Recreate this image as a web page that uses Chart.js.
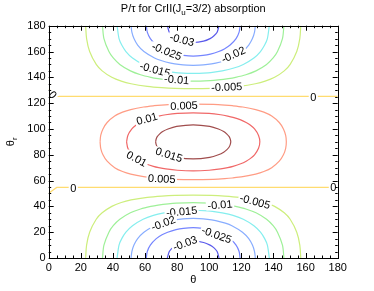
<!DOCTYPE html>
<html>
<head>
<meta charset="utf-8">
<script src="https://cdn.jsdelivr.net/npm/chart.js@4/dist/chart.umd.min.js"></script>
<style>
html,body{margin:0;padding:0;background:#fff;}
canvas{display:block;}
</style>
</head>
<body>
<canvas id="c" width="374" height="291"></canvas>
<script>
// ---- axes ----
const thetaTicks = [0, 20, 40, 60, 80, 100, 120, 140, 160, 180];
const thetaRTicks = [0, 20, 40, 60, 80, 100, 120, 140, 160, 180];

// ---- contour levels ----
const levels = [-0.03, -0.025, -0.02, -0.015, -0.01, -0.005, 0, 0.005, 0.01, 0.015];

// ---- contour paths, [theta, theta_r] ----
const cNeg030Bot = [[73.9,0],[75.1,5],[77.2,8],[79.5,10],[83.5,12],[90,13],[96.5,12],[100.5,10],[102.8,8],[104.9,5],[106.1,0]];
const cNeg030Top = [[73.9,180],[75.1,175],[77.2,172],[79.5,170],[83.5,168],[90,167],[96.5,168],[100.5,170],[102.8,172],[104.9,175],[106.1,180]];
const cNeg025Bot = [[60.8,0],[61.4,5],[63.3,10],[67.0,15],[70.6,18],[74.1,20],[79.3,22],[83.9,23],[90,23.5],[96.1,23],[100.7,22],[105.9,20],[109.4,18],[113.0,15],[116.7,10],[118.6,5],[119.2,0]];
const cNeg025Top = [[60.8,180],[61.4,175],[63.3,170],[67.0,165],[70.6,162],[74.1,160],[79.3,158],[83.9,157],[90,156.5],[96.1,157],[100.7,158],[105.9,160],[109.4,162],[113.0,165],[116.7,170],[118.6,175],[119.2,180]];
const cNeg020Bot = [[51.3,0],[51.8,5],[53.1,10],[55.4,15],[59.3,20],[65.9,25],[70.0,27],[76.0,29],[81.0,30],[90,30.7],[99.0,30],[104.0,29],[110.0,27],[114.1,25],[120.7,20],[124.6,15],[126.9,10],[128.2,5],[128.7,0]];
const cNeg020Top = [[51.3,180],[51.8,175],[53.1,170],[55.4,165],[59.3,160],[65.9,155],[70.0,153],[76.0,151],[81.0,150],[90,149.3],[99.0,150],[104.0,151],[110.0,153],[114.1,155],[120.7,160],[124.6,165],[126.9,170],[128.2,175],[128.7,180]];
const cNeg015Bot = [[42.6,0],[43.8,10],[45.5,15],[48.1,20],[52.2,25],[58.8,30],[65.2,33],[71.9,35],[77.0,36],[80.7,36.5],[90,37.0],[99.3,36.5],[103.0,36],[108.1,35],[114.8,33],[121.2,30],[127.8,25],[131.9,20],[134.5,15],[136.2,10],[137.4,0]];
const cNeg015Top = [[42.6,180],[43.8,170],[45.5,165],[48.1,160],[52.2,155],[58.8,150],[65.2,147],[71.9,145],[77.0,144],[80.7,143.5],[90,143.0],[99.3,143.5],[103.0,144],[108.1,145],[114.8,147],[121.2,150],[127.8,155],[131.9,160],[134.5,165],[136.2,170],[137.4,180]];
const cNeg010Bot = [[33.5,0],[34.4,10],[37.5,20],[40.2,25],[44.3,30],[50.9,35],[57.2,38],[63.6,40],[68.1,41],[74.5,42],[79.5,42.5],[90,42.9],[100.5,42.5],[105.5,42],[111.9,41],[116.4,40],[122.8,38],[129.1,35],[135.7,30],[139.8,25],[142.5,20],[145.6,10],[146.5,0]];
const cNeg010Top = [[33.5,180],[34.4,170],[37.5,160],[40.2,155],[44.3,150],[50.9,145],[57.2,142],[63.6,140],[68.1,139],[74.5,138],[79.5,137.5],[90,137.1],[100.5,137.5],[105.5,138],[111.9,139],[116.4,140],[122.8,142],[129.1,145],[135.7,150],[139.8,155],[142.5,160],[145.6,170],[146.5,180]];
const cNeg005Bot = [[23.0,0],[23.6,10],[25.5,20],[29.6,30],[33.3,35],[39.3,40],[45.2,43],[51.3,45],[61.4,47],[70.5,48],[78.7,48.5],[90,48.7],[101.3,48.5],[109.5,48],[118.6,47],[128.7,45],[134.8,43],[140.7,40],[146.7,35],[150.4,30],[154.5,20],[156.4,10],[157.0,0]];
const cNeg005Top = [[23.0,180],[23.6,170],[25.5,160],[29.6,150],[33.3,145],[39.3,140],[45.2,137],[51.3,135],[61.4,133],[70.5,132],[78.7,131.5],[90,131.3],[101.3,131.5],[109.5,132],[118.6,133],[128.7,135],[134.8,137],[140.7,140],[146.7,145],[150.4,150],[154.5,160],[156.4,170],[157.0,180]];
const cZeroTop = [[0,131],[4,125.3],[180,125.3]];
const cZeroBot = [[0,50.2],[5,54.7],[180,54.7]];
const cPos005 = [[32.0,90],[32.4,95],[33.8,100],[36.4,105],[41.1,110],[46.0,113],[51.1,115],[59.1,117],[65.6,118],[70.3,118.5],[77.4,119],[90,119.3],[102.6,119],[109.7,118.5],[114.4,118],[120.9,117],[128.9,115],[134.0,113],[138.9,110],[143.6,105],[146.2,100],[147.6,95],[148.0,90],[147.6,85],[146.2,80],[143.6,75],[138.9,70],[134.0,67],[128.9,65],[120.9,63],[114.4,62],[109.7,61.5],[102.6,61],[90,60.7],[77.4,61],[70.3,61.5],[65.6,62],[59.1,63],[51.1,65],[46.0,67],[41.1,70],[36.4,75],[33.8,80],[32.4,85],[32.0,90]];
const cPos010 = [[48.5,90],[49.3,95],[51.8,100],[54.5,103],[57.0,105],[60.4,107],[65.2,109],[68.5,110],[72.9,111],[80.1,112],[90,112.5],[99.9,112],[107.1,111],[111.5,110],[114.8,109],[119.6,107],[123.0,105],[125.5,103],[128.2,100],[130.7,95],[131.5,90],[130.7,85],[128.2,80],[125.5,77],[123.0,75],[119.6,73],[114.8,71],[111.5,70],[107.1,69],[99.9,68],[90,67.5],[80.1,68],[72.9,69],[68.5,70],[65.2,71],[60.4,73],[57.0,75],[54.5,77],[51.8,80],[49.3,85],[48.5,90]];
const cPos015 = [[66.6,90],[66.9,92],[67.6,94],[69.0,96],[71.0,98],[74.3,100],[79.7,102],[90,103.2],[100.3,102],[105.7,100],[109.0,98],[111.0,96],[112.4,94],[113.1,92],[113.4,90],[113.1,88],[112.4,86],[111.0,84],[109.0,82],[105.7,80],[100.3,78],[90,76.8],[79.7,78],[74.3,80],[71.0,82],[69.0,84],[67.6,86],[66.9,88],[66.6,90]];

// ---- inline contour labels ----
const labelText   = ['-0.03','-0.025','-0.02','-0.015','-0.01','-0.005','0','0','0.005','0.01','0.015','0.01','0.005','0','0','-0.005','-0.01','-0.015','-0.02','-0.025','-0.03'];
const labelTheta  = [83.0, 73.5, 115.0, 66.2, 79.7, 110.9, 2.5, 164.8, 84.3, 61.2, 74.9, 54.8, 70.4, 15.3, 177.3, 128.5, 106.7, 82.8, 71.4, 104.6, 84.9];
const labelThetaR = [169.1, 160.0, 157.5, 145.9, 138.1, 132.4, 126.5, 124.7, 117.9, 107.8, 79.9, 76.8, 61.3, 54.1, 54.5, 43.7, 41.1, 35.9, 26.9, 17.8, 11.4];
const labelAngles = [15, 22, -25, 15, 5, -2, 50, 0, -3, -15, 18, 28, 3, 0, 0, 15, -5, -5, -20, 20, -20];

// ---- styling ----
const levelColors = {
  '-0.03':'#5a5aeb', '-0.025':'#7585ff', '-0.02':'#88adff', '-0.015':'#85eeee',
  '-0.01':'#9ef098', '-0.005':'#cdee7c', '0':'#ffdc70',
  '0.005':'#ff9c84', '0.01':'#f06868', '0.015':'#a04c4c'
};
const FONT = '"Liberation Sans", Arial, Helvetica, sans-serif';

const paths = [
  [cNeg030Bot,-0.03],[cNeg030Top,-0.03],[cNeg025Bot,-0.025],[cNeg025Top,-0.025],
  [cNeg020Bot,-0.02],[cNeg020Top,-0.02],[cNeg015Bot,-0.015],[cNeg015Top,-0.015],
  [cNeg010Bot,-0.01],[cNeg010Top,-0.01],[cNeg005Bot,-0.005],[cNeg005Top,-0.005],
  [cZeroTop,0],[cZeroBot,0],[cPos005,0.005],[cPos010,0.01],[cPos015,0.015]
];

const datasets = paths.map(([pts, lev]) => ({
  data: pts.map(p => ({x: p[0], y: p[1]})),
  showLine: true,
  borderColor: levelColors[String(lev)],
  borderWidth: 1.2,
  pointRadius: 0,
  tension: lev === 0 ? 0 : 0.3,
  fill: false
}));

const framePlugin = {
  id: 'frame',
  afterDatasetsDraw(chart) {
    const {ctx, chartArea: a, scales: {x, y}} = chart;
    ctx.save();
    ctx.font = '11px ' + FONT;
    ctx.textAlign = 'center';
    ctx.textBaseline = 'middle';
    for (let i = 0; i < labelText.length; i++) {
      const px = x.getPixelForValue(labelTheta[i]);
      const py = y.getPixelForValue(labelThetaR[i]);
      ctx.save();
      ctx.translate(px, py);
      ctx.rotate(labelAngles[i] * Math.PI / 180);
      const w = ctx.measureText(labelText[i]).width;
      ctx.fillStyle = '#fff';
      ctx.fillRect(-w/2 - 1.5, -4.5, w + 3, 9);
      ctx.fillStyle = '#000';
      ctx.fillText(labelText[i], 0, 0.5);
      ctx.restore();
    }
    ctx.restore();
  },
  afterDraw(chart) {
    const {ctx, chartArea: a, scales: {x, y}} = chart;
    ctx.save();
    ctx.strokeStyle = '#000';
    ctx.lineWidth = 1;
    ctx.strokeRect(Math.round(a.left) + 0.5, Math.round(a.top) + 0.5,
                   Math.round(a.right) - Math.round(a.left), Math.round(a.bottom) - Math.round(a.top));
    ctx.beginPath();
    for (let v = 0; v <= 180; v += 5) {
      const major = v % 20 === 0;
      const len = major ? 5 : 2.5;
      const px = Math.round(x.getPixelForValue(v)) + 0.5;
      ctx.moveTo(px, a.bottom); ctx.lineTo(px, a.bottom - len);
      ctx.moveTo(px, a.top); ctx.lineTo(px, a.top + len);
      const py = Math.round(y.getPixelForValue(v)) + 0.5;
      ctx.moveTo(a.left, py); ctx.lineTo(a.left + len, py);
      ctx.moveTo(a.right, py); ctx.lineTo(a.right - len, py);
    }
    ctx.stroke();
    const cx = (a.left + a.right) / 2;
    const parts = [['P/\u03C4 for CrII(J', 11, 0], ['u', 8, 3], ['=3/2) absorption', 11, 0]];
    let total = 0;
    parts.forEach(p => { ctx.font = p[1] + 'px ' + FONT; total += ctx.measureText(p[0]).width; });
    let tx = cx - total / 2;
    ctx.fillStyle = '#000';
    ctx.textAlign = 'left';
    ctx.textBaseline = 'alphabetic';
    parts.forEach(p => { ctx.font = p[1] + 'px ' + FONT; ctx.fillText(p[0], tx, 12 + p[2]); tx += ctx.measureText(p[0]).width; });
    ctx.font = '11px ' + FONT;
    ctx.textAlign = 'center';
    ctx.textBaseline = 'middle';
    ctx.fillText('\u03B8', cx, 280);
    ctx.save();
    ctx.translate(10, (a.top + a.bottom) / 2);
    ctx.rotate(-Math.PI / 2);
    ctx.textAlign = 'left';
    ctx.textBaseline = 'alphabetic';
    ctx.font = '11px ' + FONT;
    const w1 = ctx.measureText('\u03B8').width;
    ctx.font = '8px ' + FONT;
    const w2 = ctx.measureText('r').width;
    ctx.font = '11px ' + FONT;
    ctx.fillText('\u03B8', -(w1 + w2) / 2, 4);
    ctx.font = '8px ' + FONT;
    ctx.fillText('r', -(w1 + w2) / 2 + w1, 7);
    ctx.restore();
    ctx.restore();
  }
};

new Chart(document.getElementById('c'), {
  type: 'scatter',
  data: { datasets },
  options: {
    responsive: false,
    animation: false,
    events: [],
    layout: { padding: { top: 25.7, right: 36.3, left: 0, bottom: 0 } },
    plugins: { legend: { display: false }, tooltip: { enabled: false }, title: { display: false } },
    scales: {
      x: {
        type: 'linear', min: 0, max: 180,
        afterBuildTicks(s) { s.ticks = thetaTicks.map(v => ({value: v})); },
        ticks: { color: '#000', font: { size: 11, family: FONT }, padding: 3, maxRotation: 0, autoSkip: false },
        grid: { display: false, drawTicks: false },
        border: { display: false },
        afterFit(s) { s.height = 33; }
      },
      y: {
        type: 'linear', min: 0, max: 180,
        afterBuildTicks(s) { s.ticks = thetaRTicks.map(v => ({value: v})); },
        ticks: { color: '#000', font: { size: 11, family: FONT }, padding: 3, autoSkip: false },
        grid: { display: false, drawTicks: false },
        border: { display: false },
        afterFit(s) { s.width = 48.7; }
      }
    }
  },
  plugins: [framePlugin]
});
</script>
</body>
</html>
